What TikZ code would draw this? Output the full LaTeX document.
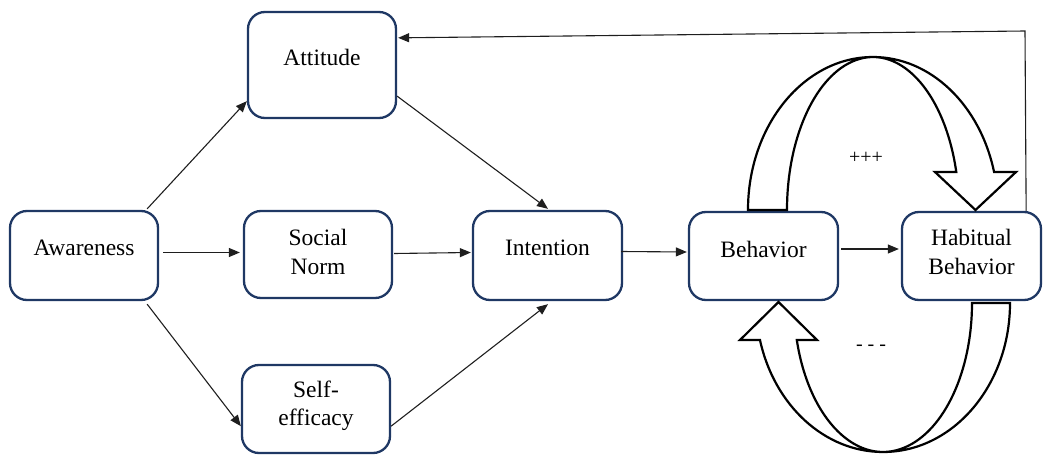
\documentclass[tikz,border=0pt]{standalone}
\usepackage{fontspec}
\setmainfont{Liberation Serif}
\newfontfamily\tnr{Liberation Serif}
\usetikzlibrary{arrows.meta,calc}
\definecolor{navy}{RGB}{31,56,100}
\begin{document}
\begin{tikzpicture}[x=1pt,y=1pt,
  box/.style={draw=navy,line width=2.3pt,rounded corners=17pt,fill=white,inner sep=0pt},
  lbl/.style={font=\tnr\fontsize{23.5}{28.5}\selectfont,align=center,inner sep=0pt},
  small/.style={font=\tnr\fontsize{20}{24}\selectfont,inner sep=0pt},
  conn/.style={line width=1.1pt,draw={rgb,255:red,30;green,30;blue,30},-{Triangle[length=11pt,width=9pt]}},
  uarrow/.style={draw=black,line width=2.2pt,fill=white,line join=miter}]
\useasboundingbox (0,0) rectangle (1045,-455);

% boxes
\node[box,minimum width=148,minimum height=106] (att) at (322,-65) {};
\node[box,minimum width=148,minimum height=89] (awa) at (84,-255.5) {};
\node[box,minimum width=148,minimum height=87] (soc) at (318,-254.5) {};
\node[box,minimum width=148,minimum height=88] (self) at (316,-409) {};
\node[box,minimum width=149,minimum height=89] (int) at (547.5,-255.5) {};
\node[box,minimum width=149,minimum height=88] (beh) at (763.5,-256) {};
\node[box,minimum width=139,minimum height=88] (hab) at (971.5,-256) {};

% labels
\node[lbl] (attl) at (322,-57) {Attitude};
\node[lbl] (awal) at (84,-248) {Awareness};
\node[lbl] (socl) at (318,-252) {Social\\Norm};
\node[lbl] (selfl) at (316,-406) {Self-\\efficacy};
\node[lbl] (intl) at (547.5,-248) {Intention};
\node[lbl] (behl) at (763.5,-249) {Behavior};
\node[lbl] (habl) at (971.5,-252) {Habitual\\Behavior};

% connectors
\draw[conn] ($(awa.north east)+(-12,1)$) -- ($(att.south west)+(0,18)$);
\draw[conn] ($(awa.east)+(4,3)$) -- ($(soc.west)+(-3,2)$);
\draw[conn] ($(awa.south east)+(-12,-3)$) -- ($(self.south west)+(0,28)$);
\draw[conn] ($(att.south east)+(0,23)$) -- ($(int.north)+(0.5,1)$);
\draw[conn] ($(soc.east)+(1,1)$) -- ($(int.west)+(-1,3)$);
\draw[conn] ($(self.south east)+(0,28)$) -- ($(int.south)+(0.5,-3)$);
\draw[conn] ($(int.east)+(-2,4)$) -- ($(beh.west)+(-1,4)$);
\draw[conn] ($(beh.east)+(2,7)$) -- ($(hab.west)+(-2,7)$);
\coordinate (fb) at (1025,-31);
\draw[conn] ($(hab.north east)+(-16,0)$) -- (fb) -- ($(att.north east)+(1,-27)$);

% U-shaped arrows
\draw[uarrow] (748,-210) arc[start angle=180,end angle=14.4,x radius=125,y radius=153]
  -- (1016,-172) -- (975.5,-210) -- (935,-172) -- (956.3,-172)
  arc[start angle=14.4,end angle=180,x radius=86,y radius=153] -- cycle;
\draw[uarrow] (1010,-303) arc[start angle=0,end angle=-165.6,x radius=127,y radius=149]
  -- (740,-340) -- (778.5,-302) -- (817,-340) -- (796.8,-340)
  arc[start angle=-165.6,end angle=0,x radius=89,y radius=149] -- cycle;

\node[small] (plus) at (866,-158) {+++};
\node[small] (minus) at (871,-348) {- - -};
\end{tikzpicture}
\end{document}
